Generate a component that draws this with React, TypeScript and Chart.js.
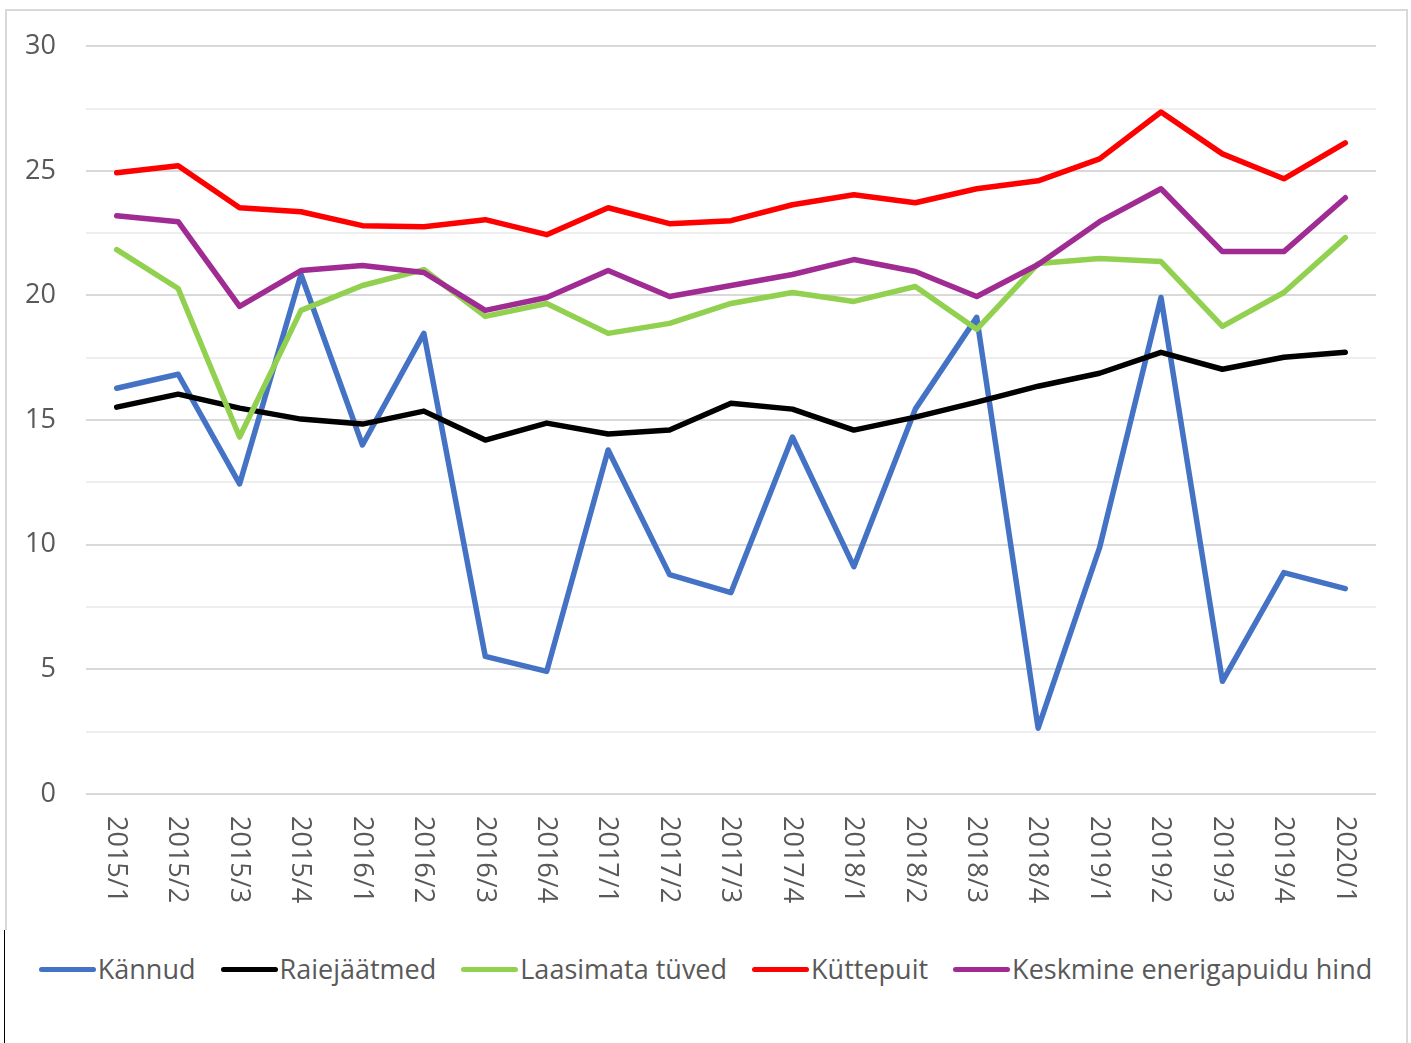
import React, { useEffect, useRef } from "react";
import { Chart, registerables } from "chart.js";

Chart.register(...registerables);

const categories = [
  "2015/1", "2015/2", "2015/3", "2015/4",
  "2016/1", "2016/2", "2016/3", "2016/4",
  "2017/1", "2017/2", "2017/3", "2017/4",
  "2018/1", "2018/2", "2018/3", "2018/4",
  "2019/1", "2019/2", "2019/3", "2019/4",
  "2020/1",
];

const kannud = [16.28, 16.84, 12.44, 20.84, 14.0, 18.48, 5.52, 4.92, 13.8, 8.8, 8.08, 14.32, 9.12, 15.44, 19.12, 2.64, 9.88, 19.92, 4.52, 8.88, 8.24];
const raiejaatmed = [15.52, 16.04, 15.48, 15.04, 14.84, 15.36, 14.2, 14.88, 14.44, 14.6, 15.68, 15.44, 14.6, 15.12, 15.72, 16.36, 16.88, 17.72, 17.04, 17.52, 17.72];
const laasimata = [21.84, 20.28, 14.32, 19.4, 20.4, 21.04, 19.16, 19.68, 18.48, 18.88, 19.68, 20.12, 19.76, 20.36, 18.64, 21.28, 21.48, 21.36, 18.76, 20.12, 22.32];
const kuttepuit = [24.92, 25.2, 23.52, 23.36, 22.8, 22.76, 23.04, 22.44, 23.52, 22.88, 23.0, 23.64, 24.04, 23.72, 24.28, 24.6, 25.48, 27.36, 25.68, 24.68, 26.12];
const keskmine = [23.2, 22.96, 19.56, 21.0, 21.2, 20.92, 19.4, 19.92, 21.0, 19.96, 20.4, 20.84, 21.44, 20.96, 19.96, 21.24, 22.96, 24.28, 21.76, 21.76, 23.92];

const seriesNames = ["Kännud", "Raiejäätmed", "Laasimata tüved", "Küttepuit", "Keskmine enerigapuidu hind"];
const seriesColors = ["#4472C4", "#000000", "#92D050", "#FF0000", "#A02B93"];
const seriesData = [kannud, raiejaatmed, laasimata, kuttepuit, keskmine];

const yMin = 0;
const yMax = 30;
const yStep = 2.5;
const yLabelEvery = 5;

const FONT = "'Open Sans', 'DejaVu Sans', sans-serif";
const TEXT_COLOR = "#595959";

const xLabelPlugin = {
  id: "xLabelsClockwise",
  afterDraw(chart: any) {
    const { ctx, chartArea } = chart;
    const xScale = chart.scales.x;
    ctx.save();
    ctx.fillStyle = TEXT_COLOR;
    ctx.font = `27px ${FONT}`;
    ctx.textAlign = "left";
    ctx.textBaseline = "middle";
    categories.forEach((label, i) => {
      const x = xScale.getPixelForValue(i);
      ctx.save();
      ctx.translate(x - 1, chartArea.bottom + 22);
      ctx.rotate(Math.PI / 2);
      ctx.fillText(label, 0, 0);
      ctx.restore();
    });
    ctx.restore();
  },
};

export default function App() {
  const canvasRef = useRef<HTMLCanvasElement | null>(null);

  useEffect(() => {
    if (!canvasRef.current) return;
    const chart = new Chart(canvasRef.current, {
      type: "line",
      data: {
        labels: categories,
        datasets: seriesData.map((d, i) => ({
          label: seriesNames[i],
          data: d,
          borderColor: seriesColors[i],
          backgroundColor: seriesColors[i],
          borderWidth: 5.5,
          pointRadius: 0,
          pointHoverRadius: 0,
          tension: 0,
          borderCapStyle: "round",
          borderJoinStyle: "round",
          fill: false,
          order: seriesData.length - i,
        })),
      },
      options: {
        responsive: false,
        animation: false,
        devicePixelRatio: 1,
        layout: { padding: { left: 0, right: 35, top: 41, bottom: 0 } },
        plugins: {
          legend: { display: false },
          tooltip: { enabled: false },
          title: { display: false },
        },
        scales: {
          x: {
            type: "category",
            offset: true,
            grid: { display: false },
            border: { display: false },
            ticks: { display: false },
            afterFit: (scale: any) => {
              scale.height = 136;
            },
          },
          y: {
            min: yMin,
            max: yMax,
            border: { display: false },
            grid: {
              drawTicks: false,
              lineWidth: 2,
              color: (ctx: any) =>
                ctx.tick && ctx.tick.value % yLabelEvery === 0 ? "#d9d9d9" : "#eeeeee",
            },
            ticks: {
              stepSize: yStep,
              padding: 30,
              color: TEXT_COLOR,
              font: { family: FONT, size: 27 },
              callback: (v: any) => (Number(v) % yLabelEvery === 0 ? String(v) : ""),
            },
            afterFit: (scale: any) => {
              scale.width = 86;
            },
          },
        },
      },
      plugins: [xLabelPlugin],
    });
    return () => chart.destroy();
  }, []);

  return (
    <div style={{ position: "absolute", left: 0, top: 0, width: 1411, height: 1043, overflow: "hidden", background: "#fff" }}>
      <div style={{ position: "absolute", left: 5, top: 9, width: 1403, height: 2, background: "#d9d9d9" }} />
      <div style={{ position: "absolute", left: 1406, top: 9, width: 2, height: 1034, background: "#d9d9d9" }} />
      <div style={{ position: "absolute", left: 5, top: 9, width: 2, height: 921, background: "#d9d9d9" }} />
      <div style={{ position: "absolute", left: 4, top: 930, width: 1, height: 113, background: "#000" }} />
      <canvas
        ref={canvasRef}
        width={1411}
        height={930}
        style={{ position: "absolute", left: 0, top: 0, width: 1411, height: 930 }}
      />
      <div
        style={{
          position: "absolute",
          left: 0,
          top: 950,
          width: 1411,
          height: 36,
          display: "flex",
          justifyContent: "center",
          alignItems: "center",
          gap: 25,
          fontFamily: FONT,
          fontSize: 27,
          color: TEXT_COLOR,
          whiteSpace: "nowrap",
        }}
      >
        {seriesNames.map((name, i) => (
          <div key={name} style={{ display: "flex", alignItems: "center" }}>
            <span
              style={{
                display: "inline-block",
                width: 57,
                height: 5,
                borderRadius: 3,
                background: seriesColors[i],
                marginRight: 2,
                marginTop: 3,
              }}
            />
            <span>{name}</span>
          </div>
        ))}
      </div>
    </div>
  );
}
